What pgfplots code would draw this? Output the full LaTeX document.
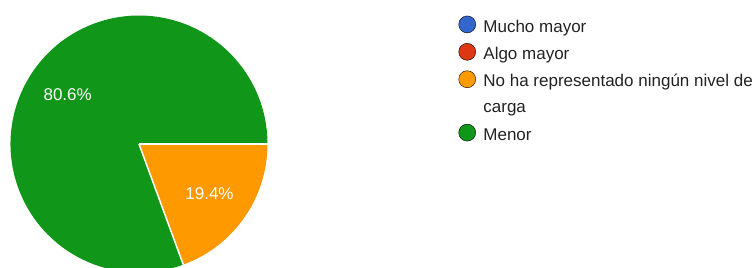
\documentclass[border=0pt]{standalone}
\usepackage{pgfplots}
\usepackage{pgfplotstable}
\pgfplotsset{compat=1.18}
\usepackage{fontspec}
\setmainfont{Liberation Sans}
\definecolor{cBlue}{HTML}{3366CC}
\definecolor{cRed}{HTML}{DC3912}
\definecolor{cOrange}{HTML}{FF9900}
\definecolor{cGreen}{HTML}{109618}
\definecolor{cText}{HTML}{222222}

\pgfplotstableread{
value
0
0
19.4
80.6
}\piedata

\begin{document}
\begin{tikzpicture}[font=\fontsize{17pt}{20pt}\selectfont]
\useasboundingbox (0,0) rectangle (756pt,268pt);
\pgfplotstablegetelem{2}{value}\of\piedata \pgfmathsetmacro\vOrange{\pgfplotsretval}
\pgfplotstablegetelem{3}{value}\of\piedata \pgfmathsetmacro\vGreen{\pgfplotsretval}
\pgfmathsetmacro\aA{0}
\pgfmathsetmacro\aB{-3.6*\vOrange}
\pgfmathsetmacro\aC{\aB-3.6*\vGreen}
\pgfmathsetmacro\mO{(\aA+\aB)/2}
\pgfmathsetmacro\mG{(\aB+\aC)/2}
\begin{axis}[at={(0,0)}, anchor=south west, x=1pt, y=1pt,
  xmin=0, xmax=756, ymin=0, ymax=268, y dir=reverse,
  hide axis, clip=true,
  /pgf/number format/assume math mode=true,
  legend style={at={(axis description cs:0.6065,0.9414)}, anchor=north west,
    draw=none, fill=none, inner sep=0pt, outer sep=0pt,
    row sep=8pt, column sep=7.5pt,
    nodes={inner sep=0pt, text height=15pt, text depth=3pt, text=cText},
    font=\fontsize{17pt}{20pt}\selectfont},
  legend cell align=left,
  legend image code/.code={\fill[#1] (8.5pt,1.7pt) circle[radius=8.5pt];}
]
\addlegendimage{fill=cBlue}\addlegendentry{Mucho mayor}
\addlegendimage{fill=cRed}\addlegendentry{Algo mayor}
\addlegendimage{fill=cOrange}\addlegendentry{No ha representado ningún nivel de}
\addlegendimage{empty legend}\addlegendentry{carga}
\addlegendimage{fill=cGreen}\addlegendentry{Menor}

\fill[cOrange] (axis cs:139,144) -- ++(\aA:128.5pt) arc[start angle=\aA, end angle=\aB, radius=128.5pt] -- cycle;
\fill[cGreen] (axis cs:139,144) -- ++(\aB:128.5pt) arc[start angle=\aB, end angle=\aC, radius=128.5pt] -- cycle;
\draw[white, line width=1.5pt] (axis cs:139,144) -- ++(\aA:129pt);
\draw[white, line width=1.5pt] (axis cs:139,144) -- ++(\aB:129pt);
\path (axis cs:139,144) ++(\mG:87pt) node[text=white] {\pgfmathprintnumber[fixed,precision=1,fixed zerofill]{\vGreen}\%};
\path (axis cs:139,144) ++(\mO:86pt) node[text=white] {\pgfmathprintnumber[fixed,precision=1,fixed zerofill]{\vOrange}\%};
\end{axis}
\end{tikzpicture}
\end{document}
